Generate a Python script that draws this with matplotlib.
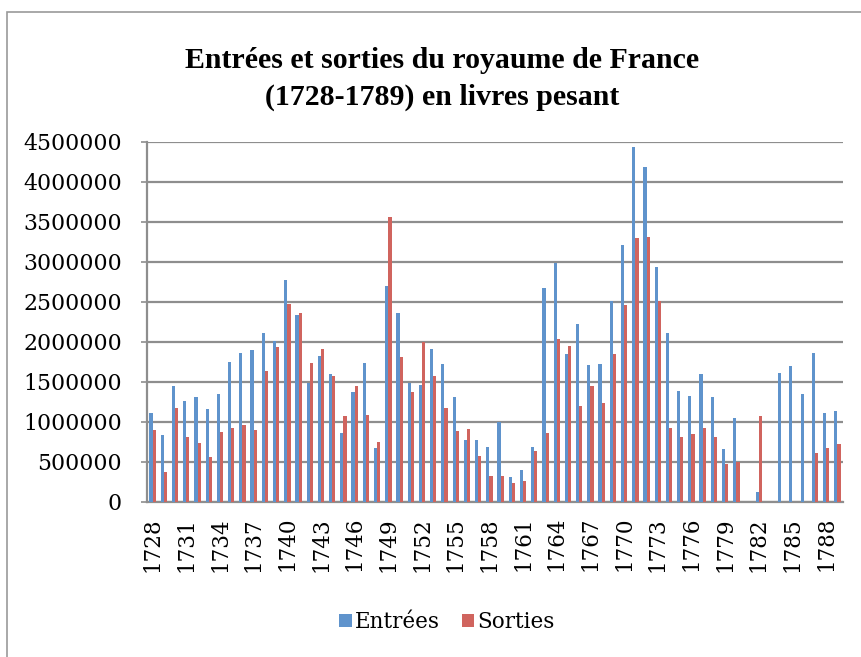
import matplotlib
matplotlib.use("Agg")
import matplotlib.pyplot as plt
import numpy as np
from matplotlib.patches import Rectangle

years = list(range(1728, 1790))
entrees = [1104000, 833000, 1446000, 1258000, 1304000, 1154000, 1342000, 1742000,
           1858000, 1896000, 2108000, 2008000, 2767000, 2333000, 1487000, 1817000,
           1596000, 854000, 1367000, 1733000, 675000, 2696000, 2363000, 1479000,
           1458000, 1904000, 1725000, 1304000, 771000, 775000, 683000, 996000,
           304000, 396000, 683000, 2675000, 2983000, 1842000, 2225000, 1704000,
           1725000, 2504000, 3213000, 4433000, 4188000, 2933000, 2108000, 1388000,
           1321000, 1596000, 1304000, 654000, 1046000, 0, 117000, 0,
           1608000, 1696000, 1342000, 1863000, 1113000, 1129000]
sorties = [896000, 375000, 1175000, 808000, 737000, 558000, 875000, 921000,
           958000, 892000, 1637000, 1933000, 2475000, 2358000, 1733000, 1908000,
           1571000, 1071000, 1450000, 1083000, 746000, 3558000, 1804000, 1371000,
           1996000, 1571000, 1175000, 883000, 904000, 575000, 317000, 317000,
           229000, 258000, 633000, 858000, 2033000, 1946000, 1192000, 1446000,
           1229000, 1846000, 2454000, 3296000, 3313000, 2504000, 925000, 813000,
           842000, 921000, 808000, 471000, 500000, 0, 1071000, 0,
           0, 0, 0, 608000, 675000, 717000]
yticks = list(range(0, 4500001, 500000))
title = "Entrées et sorties du royaume de France\n(1728-1789) en livres pesant"

blue = "#5f93cc"
red = "#d0645e"
grid = "#8e8e8e"

fig = plt.figure(figsize=(8.62, 6.57), dpi=100)
ax = fig.add_axes([147/862, 1-501.7/657, (843-147)/862, (501.7-141.7)/657])

x = np.arange(len(years))
w = 1/3.5
ax.bar(x - w/2, entrees, width=w, color=blue, label="Entrées", zorder=3)
ax.bar(x + w/2, sorties, width=w, color=red, label="Sorties", zorder=3)

ax.set_xlim(-0.5, len(years) - 0.5)
ax.set_ylim(0, 4500000)
ax.set_yticks(yticks)
ax.set_yticklabels([str(v) for v in yticks], fontfamily="DejaVu Serif", fontsize=15.8)
ax.set_xticks(x[::3])
ax.set_xticklabels([str(y) for y in years[::3]], rotation=90,
                   fontfamily="DejaVu Serif", fontsize=15.5)
ax.tick_params(axis="y", length=4, width=1.2, color=grid, pad=14)
ax.tick_params(axis="x", length=0, pad=11)
ax.yaxis.grid(True, color=grid, linewidth=1.6, zorder=0)
ax.set_axisbelow(True)
for s in ["top", "right"]:
    ax.spines[s].set_visible(False)
for s in ["left", "bottom"]:
    ax.spines[s].set_color(grid)
    ax.spines[s].set_linewidth(1.6)

fig.text(442/862, 1-79/657, title, ha="center", va="center",
         fontfamily="Liberation Serif", fontweight="bold", fontsize=21.5,
         linespacing=1.45)

leg = fig.legend(loc="center", bbox_to_anchor=(447/862, 1-622/657), ncol=2,
                 frameon=False, prop={"family": "DejaVu Serif", "size": 15.5},
                 handlelength=0.6, handleheight=0.6, handletextpad=0.15,
                 columnspacing=1.0)

fig.patches.append(Rectangle((7/862, -0.1), 2.0, 1.1 - 12/657, transform=fig.transFigure,
                             fill=False, edgecolor="#9a9a9a", linewidth=1.2))

fig.savefig("out.png", dpi=100)
